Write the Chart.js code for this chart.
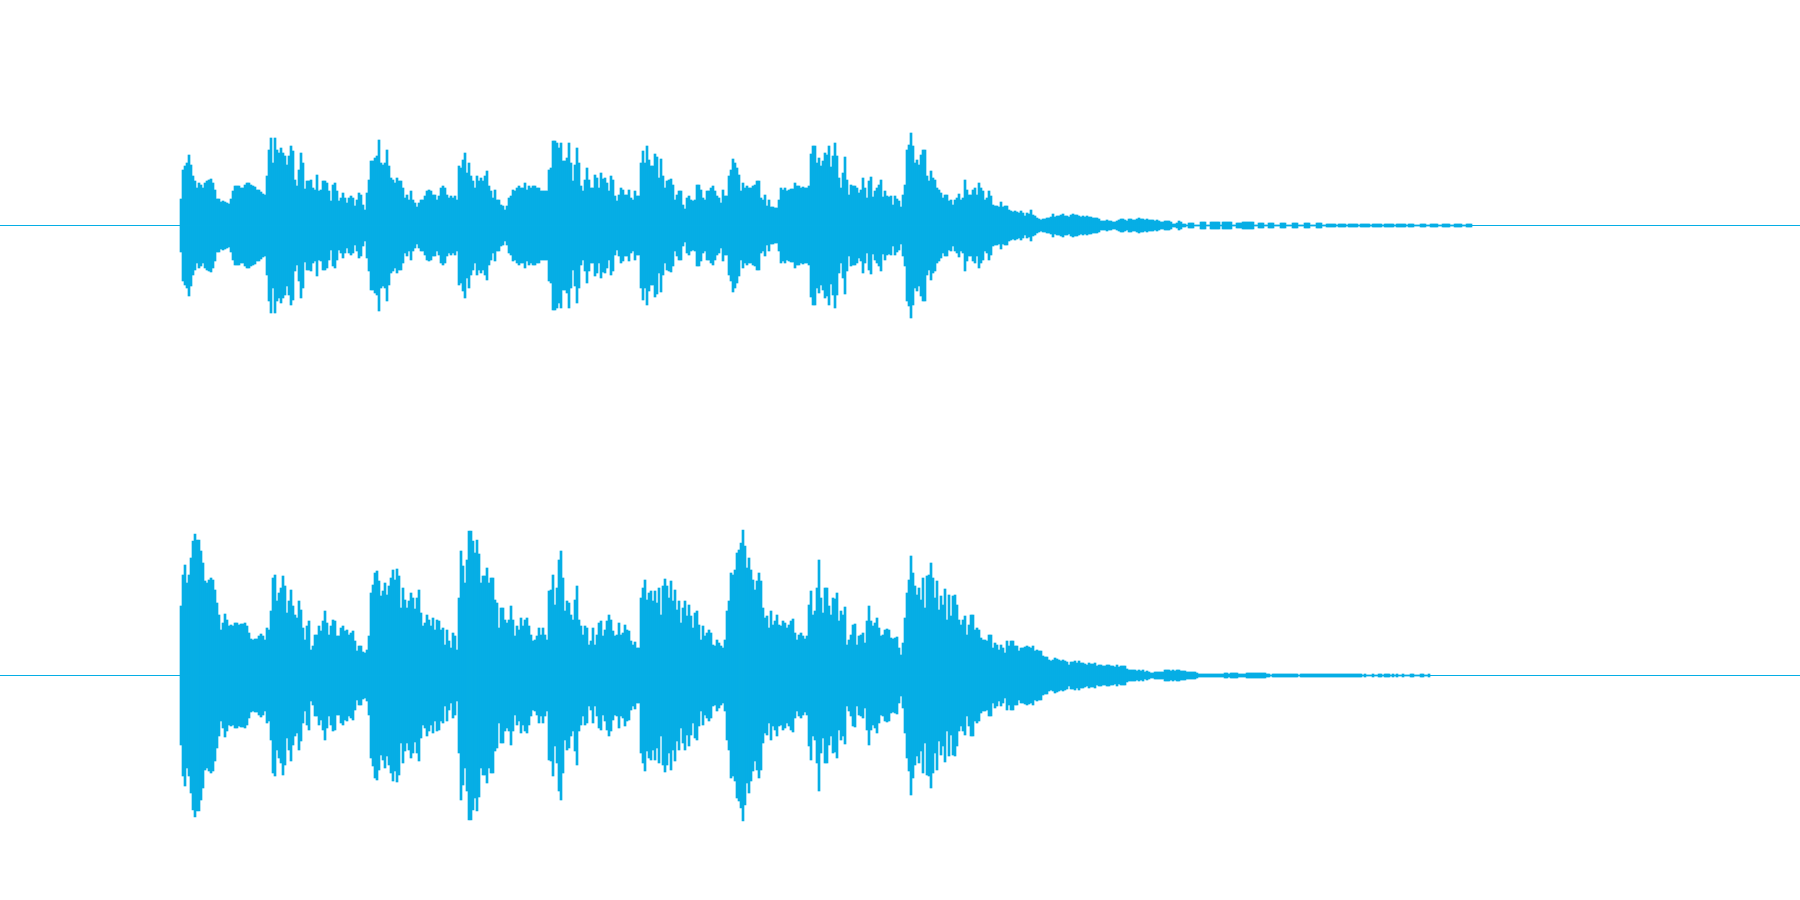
<!DOCTYPE html>
<html>
<head>
<meta charset="utf-8">
<title>Waveform</title>
<script src="https://cdn.jsdelivr.net/npm/chart.js@4/dist/chart.umd.min.js"></script>
<style>
  html, body { margin: 0; padding: 0; background: #fff; }
  canvas { display: block; }
</style>
</head>
<body>
<canvas id="ch1" width="1800" height="450"></canvas>
<canvas id="ch2" width="1800" height="450"></canvas>
<script>
const WAVE_COLOR = "#06aee5";
const TIME_SPAN = 1800;   // timeline length
const FIRST_PEAK = 181;   // where the clip starts on the timeline
const HOP = 2;            // one peak every 2 timeline units

// peak amplitude per hop
const peaksCh1 = [
  26,55,59,62,70,60,49,44,37,42,40,37,42,44,45,46,42,35,26,26,23,24,23,22,21,26,34,39,39,39,37,37,40,42,42,40,39,38,35,35,33,31,30,49,75,87,62,87,75,72,77,72,69,60,69,79,74,45,39,55,72,62,36,44,44,45,37,35,50,34,35,44,44,42,34,24,40,42,34,24,27,32,27,22,27,29,27,19,25,32,30,20,15,32,45,64,64,67,69,85,62,60,62,75,59,47,45,42,47,44,44,37,27,30,25,34,25,22,18,22,25,25,29,34,35,34,30,30,25,29,37,39,37,30,27,29,27,29,25,59,57,65,72,52,62,49,44,37,49,44,47,44,49,54,39,34,27,35,25,25,20,19,15,19,27,29,35,34,37,39,37,37,42,35,39,37,39,39,37,37,34,34,34,34,55,57,84,84,82,77,82,64,64,67,82,62,44,60,77,62,39,34,45,57,45,37,37,50,47,37,52,46,47,42,34,49,45,29,24,30,37,35,30,30,35,27,25,34,29,29,62,74,62,79,65,
  59,59,71,68,47,66,49,37,44,45,46,40,25,30,34,34,20,16,27,29,25,24,25,40,40,35,27,25,34,34,37,39,34,29,27,22,35,29,29,49,55,66,62,57,50,34,42,37,39,37,37,39,40,44,44,27,25,30,19,25,18,18,17,17,25,37,35,37,34,35,36,36,42,39,39,37,38,37,37,39,71,79,79,62,67,59,64,72,70,79,58,69,82,69,47,37,52,68,45,30,40,39,39,37,32,35,47,37,27,44,48,28,34,37,40,45,28,34,29,28,29,20,29,26,24,18,30,40,75,80,92,79,62,65,60,70,75,75,49,44,54,47,45,37,35,32,27,30,30,24,25,20,25,27,31,25,27,45,35,30,30,35,37,30,42,37,34,25,27,34,29,20,19,19,18,23,18,19,19,15,14,13,14,13,12,14,12,9,12,11,15,10,9,7,6,5,6,6,7,7,8,11,8,9,9,10,11,9,9,8,10,11,10,10,9,8,9,8,9,8,8,7,7,7,6,4,4,4,5,4,4,3,3,4,5,6,6,5,4,6
];
const tailCh1 = [
  6,5,5,6,7,6,6,5,6,5,5,5,4,5,4,3,3,4,4,4,3,1,1,2,4,3,1,1,
  0,2,2,2,0,0,0,3,3,3,0,0,3,3,3,3,3,0,3,3,3,3,3,0,0,2,2,2,3,3,3,3,3,3,0,0,
  2,2,2,0,0,2,2,2,0,0,0,2,2,2,0,0,0,2,2,2,0,0,0,2,2,2,0,0,0,2,2,2,0,0,
  1,1,1,1,1,0,1,1,1,1,0,1,1,1,1,1,0,1,1,1,1,1,0,1,1,1,1,1,0,1,1,1,1,1,0,1,1,1,1,1,0,
  1,1,1,0,0,0,1,1,1,0,0,1,1,1,1,0,0,1,1,1,1,0,0,1,1,1,1,0,0,1,1,1
];
const peaksCh2 = [
  69,100,110,92,100,117,134,141,135,135,124,112,94,92,95,97,95,85,72,60,45,52,61,55,49,50,49,52,52,50,51,51,52,49,42,36,35,36,36,39,41,39,35,47,45,64,97,100,74,82,87,99,89,62,74,85,69,60,57,74,65,47,35,49,54,25,29,40,40,49,44,54,64,52,40,49,55,54,39,39,47,49,44,45,40,42,44,34,24,29,29,23,22,25,39,82,90,102,104,94,79,84,92,80,89,97,105,95,106,99,67,87,75,67,74,82,77,66,77,85,62,49,52,60,55,49,57,45,55,54,45,47,30,45,34,27,42,39,25,77,124,109,92,115,144,144,134,122,135,121,92,99,99,107,92,97,97,75,72,47,67,67,55,52,55,69,55,39,49,45,57,49,55,57,49,40,34,35,39,47,40,47,40,35,84,85,100,70,87,115,124,97,64,74,72,60,55,75,89,55,49,40,49,47,30,34,47,30,40,52,54,39,45,54,60,55,44,39,40,52,40,42,50,45,44,34,30,33,27,27,77,87,95,75,82,
  84,74,84,72,87,60,89,96,89,77,94,74,85,65,74,52,67,74,59,70,59,47,62,64,50,35,49,39,42,45,42,30,29,35,32,29,27,35,64,74,102,100,105,122,125,132,145,129,107,117,105,95,85,94,102,94,67,57,59,47,64,50,54,60,50,49,54,52,47,50,54,56,42,35,40,42,39,36,39,70,84,60,64,87,115,77,62,87,87,69,60,77,76,82,54,64,60,68,30,35,40,50,51,30,39,40,42,32,54,69,54,49,52,57,47,39,40,45,46,45,37,36,37,38,27,20,32,57,82,95,119,102,89,80,87,75,97,67,99,100,112,97,77,94,65,79,70,86,55,80,59,79,80,70,55,50,55,59,40,50,60,60,45,47,45,37,35,35,34,40,40,27,32,30,25,30,27,22,34,29,34,34,29,29,24,27,27,28,29,28,27,29,24,25,24,24,19,18,18,15,14,15,17,16,15,14,15,14,13,10,13,13,14,12,14,12,12,11,10,12,11,11,12,9,10,10,9,9,10,10,9,9,8,10,8,9,9,9,6,5
];
const tailCh2 = [
  5,5,5,4,5,4,5,3,4,3,2,2,3,3,3,3,3,5,5,5,4,5,4,5,5,4,4,4,3,3,3,3,3,2,1,
  1,1,1,1,1,1,1,1,1,1,1,1,2,2,1,2,2,2,2,1,1,1,1,2,2,2,2,2,2,2,2,2,2,1,
  1,0,1,1,1,
  1,1,1,1,1,1,1,1,1,1,0,1,1,1,1,1,1,1,1,1,1,1,1,1,1,1,1,1,1,1,1,1,1,1,1,1,1,1,1,1,1,
  1,0,1,0,0,0,1,0,0,1,1,0,1,1,1,0,1,0,1,0,0,1,0,0,0,1,1,0,0,0,1,1,0,0,1
];

// one pixel row is half a unit either side of the centre
const ROW = 0.5;

function barsFrom(peaks) {
  return peaks.map((p, i) => ({ x: FIRST_PEAK + i * HOP, y: [-p - ROW, p + ROW] }));
}

function drawChannel(id, peaks) {
  new Chart(document.getElementById(id), {
    type: "bar",
    data: {
      datasets: [
        {
          type: "line",
          data: [{ x: 0, y: 0 }, { x: TIME_SPAN, y: 0 }],
          borderColor: WAVE_COLOR,
          borderWidth: 1,
          pointRadius: 0,
        },
        {
          data: barsFrom(peaks),
          backgroundColor: WAVE_COLOR,
          barThickness: HOP,
          borderWidth: 0,
        },
      ],
    },
    options: {
      responsive: false,
      animation: false,
      layout: { padding: 0 },
      plugins: { legend: { display: false }, tooltip: { enabled: false } },
      scales: {
        x: { type: "linear", display: false, offset: false, min: 0, max: TIME_SPAN },
        y: { display: false, min: -224.5, max: 225.5 },
      },
    },
  });
}

drawChannel("ch1", peaksCh1.concat(tailCh1));
drawChannel("ch2", peaksCh2.concat(tailCh2));
</script>
</body>
</html>
